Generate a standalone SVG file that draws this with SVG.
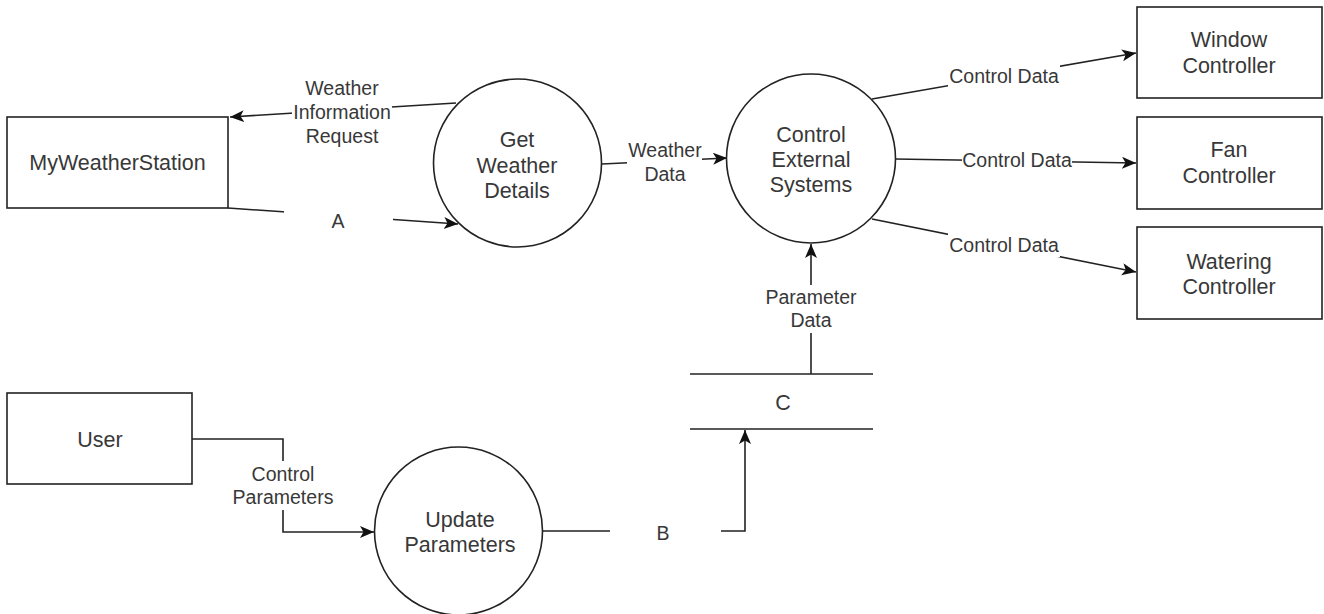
<svg xmlns="http://www.w3.org/2000/svg" width="1324" height="614" viewBox="0 0 1324 614">
<style>
.box{fill:#fff;stroke:#222;stroke-width:1.6}
.proc{fill:#fff;stroke:#222;stroke-width:1.6}
.t{font-family:"Liberation Sans",Arial,sans-serif;font-size:21.5px;fill:#383838;text-anchor:middle;dominant-baseline:central}
.l{font-family:"Liberation Sans",Arial,sans-serif;font-size:19.5px;fill:#383838;text-anchor:middle;dominant-baseline:central}
.c{fill:none;stroke:#222;stroke-width:1.6}
.bg{fill:#fff;stroke:none}
</style>
<defs>
<marker id="ah" markerUnits="userSpaceOnUse" markerWidth="16" markerHeight="14" refX="14" refY="6" orient="auto">
<path d="M0,0 L14,6 L0,12 L3.5,6 z" fill="#111"/>
</marker>
</defs>
<rect width="1324" height="614" fill="#fff"/>

<g id="connectors">
<line class="c" x1="456" y1="103" x2="230" y2="117" marker-end="url(#ah)"/>
<line class="c" x1="228" y1="208" x2="458" y2="224" marker-end="url(#ah)"/>
<line class="c" x1="602" y1="164" x2="727" y2="158" marker-end="url(#ah)"/>
<line class="c" x1="872" y1="99" x2="1136" y2="53" marker-end="url(#ah)"/>
<line class="c" x1="895" y1="159" x2="1136" y2="163" marker-end="url(#ah)"/>
<line class="c" x1="872" y1="219" x2="1136" y2="272" marker-end="url(#ah)"/>
<line class="c" x1="811" y1="374" x2="811" y2="244" marker-end="url(#ah)"/>
<polyline class="c" points="542,531 745,531 745,430" marker-end="url(#ah)"/>
<polyline class="c" points="192,439 283,439 283,532 374,532" marker-end="url(#ah)"/>

<rect class="bg" x="292" y="77" width="100" height="71"/>
<text class="l" x="342" y="88">Weather</text>
<text class="l" x="342" y="112">Information</text>
<text class="l" x="342" y="136">Request</text>

<rect class="bg" x="284" y="204" width="109" height="28"/>
<text class="l" x="338" y="221">A</text>

<rect class="bg" x="627" y="139" width="75" height="47"/>
<text class="l" x="665" y="150">Weather</text>
<text class="l" x="665" y="174">Data</text>

<rect class="bg" x="948" y="64" width="112" height="24"/>
<text class="l" x="1004" y="76">Control Data</text>
<rect class="bg" x="962" y="150" width="110" height="20"/>
<text class="l" x="1017" y="160">Control Data</text>
<rect class="bg" x="948" y="233" width="112" height="24"/>
<text class="l" x="1004" y="245">Control Data</text>

<rect class="bg" x="762" y="285" width="98" height="48"/>
<text class="l" x="811" y="297">Parameter</text>
<text class="l" x="811" y="320">Data</text>

<rect class="bg" x="610" y="520" width="111" height="28"/>
<text class="l" x="663" y="533">B</text>

<rect class="bg" x="230" y="461" width="106" height="49"/>
<text class="l" x="283" y="474">Control</text>
<text class="l" x="283" y="497">Parameters</text>
</g>

<g id="mystation">
<rect class="box" x="7" y="117" width="221" height="91"/>
<text class="t" x="117.5" y="163">MyWeatherStation</text>
</g>
<g id="user">
<rect class="box" x="7" y="393" width="185" height="91"/>
<text class="t" x="100" y="440">User</text>
</g>
<g id="getweather">
<circle class="proc" cx="517.5" cy="163" r="84"/>
<text class="t" x="517" y="140">Get</text>
<text class="t" x="517" y="166">Weather</text>
<text class="t" x="517" y="191">Details</text>
</g>
<g id="control">
<circle class="proc" cx="811" cy="158.5" r="84.5"/>
<text class="t" x="811" y="135">Control</text>
<text class="t" x="811" y="160">External</text>
<text class="t" x="811" y="185">Systems</text>
</g>
<g id="update">
<circle class="proc" cx="458.5" cy="531" r="84"/>
<text class="t" x="460" y="520">Update</text>
<text class="t" x="460" y="545">Parameters</text>
</g>
<g id="window">
<rect class="box" x="1137" y="7" width="185" height="91"/>
<text class="t" x="1229" y="40">Window</text>
<text class="t" x="1229" y="66">Controller</text>
</g>
<g id="fan">
<rect class="box" x="1137" y="117" width="185" height="92"/>
<text class="t" x="1229" y="150">Fan</text>
<text class="t" x="1229" y="176">Controller</text>
</g>
<g id="watering">
<rect class="box" x="1137" y="227" width="185" height="92"/>
<text class="t" x="1229" y="262">Watering</text>
<text class="t" x="1229" y="287">Controller</text>
</g>
<g id="store">
<rect class="bg" x="690" y="374" width="183" height="55"/>
<line class="c" x1="690" y1="374" x2="873" y2="374"/>
<line class="c" x1="690" y1="429" x2="873" y2="429"/>
<text class="t" x="783" y="403">C</text>
</g>
</svg>
